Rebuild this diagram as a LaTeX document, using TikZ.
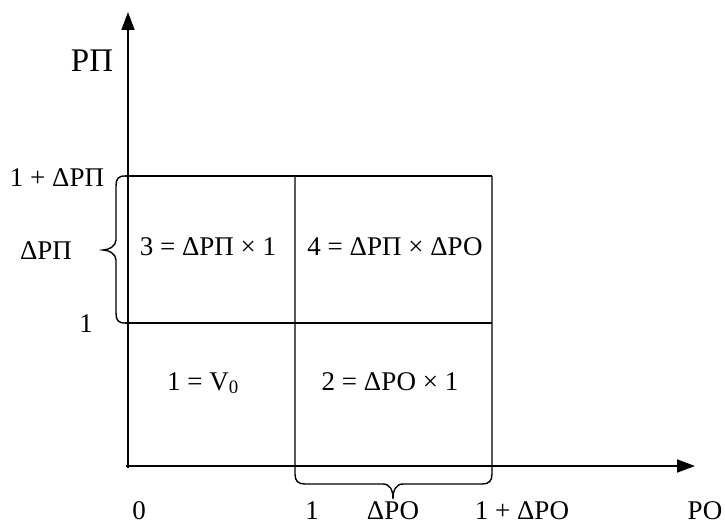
\documentclass[tikz,border=0pt]{standalone}
\usepackage{fontspec}
\setmainfont{Liberation Serif}
\usetikzlibrary{arrows.meta}
\begin{document}
\begin{tikzpicture}[x=1pt,y=-1pt,
  lbl/.style={inner sep=0pt,anchor=base,font=\fontsize{27}{31}\selectfont},
  axis/.style={line width=1.8pt,-{Triangle[length=18pt,width=13pt]}},
  boxline/.style={line width=1.4pt}]
\useasboundingbox (0,0) rectangle (725,526);
% axes
\coordinate (O) at (128,468);
\coordinate (ytip) at (128,12);
\coordinate (xtip) at (695,466);
\draw[axis] (O) -- (ytip);
\draw[axis] (126,466) -- (xtip);
% box lines
\coordinate (tl) at (125,176);
\coordinate (tr) at (492,176);
\coordinate (ml) at (125,323);
\coordinate (mr) at (492,323);
\draw[boxline] (tl) -- (tr);
\draw[boxline] (ml) -- (mr);
% left brace
\draw[boxline] (tl) .. controls (118,176) and (116,179) .. (116,186) -- (116,240)
  .. controls (116,246) and (109,250) .. (103,250)
  .. controls (109,250) and (116,254) .. (116,260) -- (116,313)
  .. controls (116,320) and (118,323) .. (ml);
% verticals with bottom brace
\draw[boxline] (295,176) -- (295,474) .. controls (295,481) and (298,484) .. (305,484) -- (383,484)
  .. controls (390,484) and (393,490) .. (393,499)
  .. controls (393,490) and (396,484) .. (403,484) -- (482,484)
  .. controls (489,484) and (492,481) .. (492,474) -- (tr);
% labels
\node[lbl,font=\fontsize{33}{37}\selectfont] (rp) at (92,72) {РП};
\node[lbl] (t1) at (57,187) {1 + ΔРП};
\node[lbl] (t2) at (46,260) {ΔРП};
\node[lbl] (t3) at (86,333) {1};
\node[lbl] (c3) at (208,256) {3 = ΔРП × 1};
\node[lbl] (c4) at (395,256) {4 = ΔРП × ΔРО};
\node[lbl] (c1) at (203,390) {1 = V\textsubscript{0}};
\node[lbl] (c2) at (390,390) {2 = ΔРО × 1};
\node[lbl] (b0) at (139,519) {0};
\node[lbl] (b1) at (312,519) {1};
\node[lbl] (b2) at (393,519) {ΔРО};
\node[lbl] (b3) at (522,519) {1 + ΔРО};
\node[lbl] (ro) at (705,519) {РО};
\end{tikzpicture}
\end{document}
